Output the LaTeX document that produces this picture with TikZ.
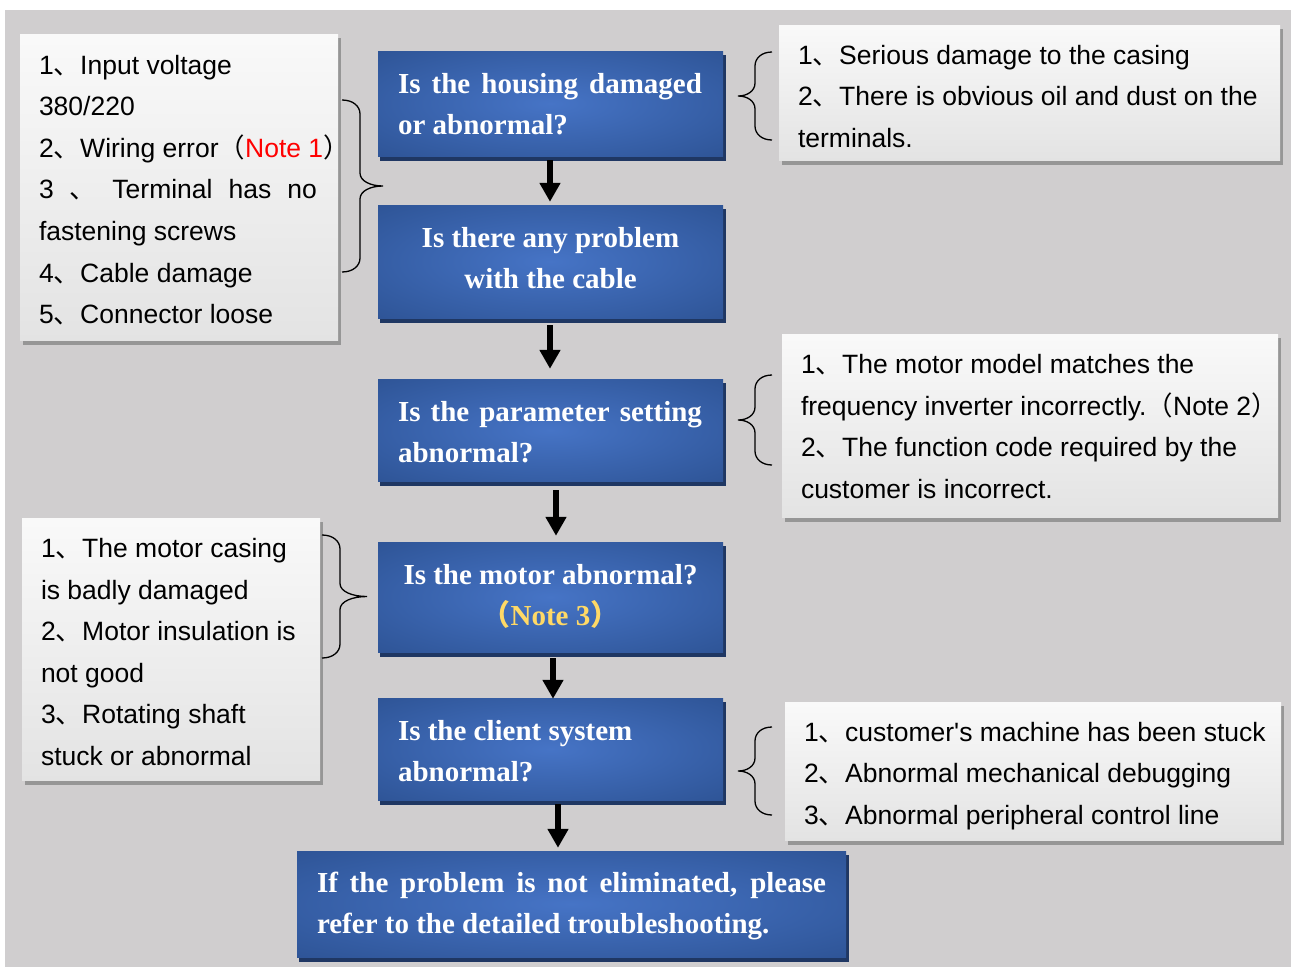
\documentclass[tikz,border=0pt]{standalone}
\usepackage{fontspec}
\setmainfont{Liberation Serif}
\newfontfamily\arialf{Liberation Sans}[Ligatures=TeXOff]
\newfontfamily\cjkf{Noto Sans CJK SC}
\usetikzlibrary{arrows.meta,calc}
\definecolor{bgc}{RGB}{208,206,207}
\definecolor{bcen}{RGB}{70,116,198}
\definecolor{bedge}{RGB}{46,84,150}
\definecolor{bsh}{RGB}{31,55,99}
\definecolor{wbot}{RGB}{216,216,216}
\definecolor{wsh}{RGB}{150,150,150}
\definecolor{noteyel}{RGB}{255,217,102}
\definecolor{notered}{RGB}{255,0,0}
\pgfdeclareradialshading{glow}{\pgfpoint{0bp}{0bp}}{color(0bp)=(bcen); color(36bp)=(bedge); color(50bp)=(bedge)}
\pgfdeclareverticalshading{wgrad}{100bp}{color(0bp)=(wbot); color(88bp)=(white); color(100bp)=(white)}
\pgfdeclarelayer{back}\pgfdeclarelayer{shad}\pgfsetlayers{back,shad,main}
\newcommand\dunc{{\cjkf 、}}
\newcommand\zlp{{\cjkf （}}
\newcommand\zrp{{\cjkf ）}}
\newcommand\Brace[5]{\draw[brc] (#1,#2) .. controls ({#1+0.6*(#4-#1)},#2) and (#4,{#2+6}) .. (#4,{#2+14}) -- (#4,{(#2+#3)/2-13}) .. controls (#4,{(#2+#3)/2-5}) and ({#5+0.55*(#4-#5)},{(#2+#3)/2}) .. (#5,{(#2+#3)/2}) .. controls ({#5+0.55*(#4-#5)},{(#2+#3)/2}) and (#4,{(#2+#3)/2+5}) .. (#4,{(#2+#3)/2+13}) -- (#4,{#3-14}) .. controls (#4,{#3-6}) and ({#1+0.6*(#4-#1)},#3) .. (#1,#3);}
\newcommand\BShadow[1]{\fill[bsh] ($(#1.south west)+(2.5,4.5)$) rectangle ($(#1.north east)+(2.5,4.5)$);}
\newcommand\WShadow[1]{\fill[wsh] ($(#1.south west)+(3,4.5)$) rectangle ($(#1.north east)+(3,4.5)$);}
\tikzset{
  bluebox/.style={shade, shading=glow, draw=none, inner sep=0pt},
  whitebox/.style={shade, shading=wgrad, draw=none, inner sep=0pt},
  btext/.style={font=\bfseries\fontsize{29}{41}\selectfont, text=white, inner sep=0pt},
  wtext/.style={font=\arialf\fontsize{26.5}{41.6}\selectfont, text=black, inner sep=0pt, align=left},
  brc/.style={draw=black, line width=1.3pt},
  flowarrow/.style={draw=black, line width=6pt, -{Triangle[width=20pt,length=19pt]}}
}
\begin{document}
\begin{tikzpicture}[x=1pt,y=-1pt]
\useasboundingbox (0,0) rectangle (1291,967);
\begin{pgfonlayer}{back}
\fill[white] (0,0) rectangle (1291,967);
\fill[bgc] (5,10) rectangle (1291,967);
\end{pgfonlayer}

% white boxes
\node[whitebox, minimum width=318pt, minimum height=306pt] (LB1) at (179,187) {};
\node[whitebox, minimum width=501pt, minimum height=135pt] (RB1) at (1029.5,92.5) {};
\node[whitebox, minimum width=496pt, minimum height=183pt] (RB2) at (1030,425.5) {};
\node[whitebox, minimum width=298pt, minimum height=262pt] (LB2) at (171,649) {};
\node[whitebox, minimum width=496pt, minimum height=138pt] (RB3) at (1033,771) {};

% blue boxes
\node[bluebox, minimum width=345pt, minimum height=105pt] (B1) at (550.5,103.5) {};
\node[bluebox, minimum width=345pt, minimum height=113pt] (B2) at (550.5,261.5) {};
\node[bluebox, minimum width=345pt, minimum height=102pt] (B3) at (550.5,430) {};
\node[bluebox, minimum width=345pt, minimum height=110pt] (B4) at (550.5,597) {};
\node[bluebox, minimum width=345pt, minimum height=102pt] (B5) at (550.5,749) {};
\node[bluebox, minimum width=549pt, minimum height=106pt] (B6) at (571.5,904) {};

\begin{pgfonlayer}{shad}
\WShadow{LB1}\WShadow{RB1}\WShadow{RB2}\WShadow{LB2}\WShadow{RB3}
\BShadow{B1}\BShadow{B2}\BShadow{B3}\BShadow{B4}\BShadow{B5}\BShadow{B6}
\end{pgfonlayer}

% white box texts
\node[wtext, anchor=west] (LB1t) at ($(LB1.west)+(19,3)$) {1\dunc Input voltage\\
380/220\\
2\dunc Wiring error\zlp{\color{notered}Note 1}\zrp\\
\makebox[278pt][s]{3 \dunc{} Terminal has no}\\
fastening screws\\
4\dunc Cable damage\\
5\dunc Connector loose};
\node[wtext, anchor=west] (RB1t) at ($(RB1.west)+(19,4)$) {1\dunc Serious damage to the casing\\
2\dunc There is obvious oil and dust on the\\
terminals.};
\node[wtext, anchor=west] (RB2t) at ($(RB2.west)+(19,1)$) {1\dunc The motor model matches the\\
frequency inverter incorrectly.\zlp Note 2\zrp\\
2\dunc The function code required by the\\
customer is incorrect.};
\node[wtext, anchor=west] (LB2t) at ($(LB2.west)+(19,3)$) {1\dunc The motor casing\\
is badly damaged\\
2\dunc Motor insulation is\\
not good\\
3\dunc Rotating shaft\\
stuck or abnormal};
\node[wtext, anchor=west] (RB3t) at ($(RB3.west)+(19,5)$) {1\dunc customer's machine has been stuck\\
2\dunc Abnormal mechanical debugging\\
3\dunc Abnormal peripheral control line};

% blue box texts
\node[btext, anchor=west, align=left] (B1t) at ($(B1.west)+(20,1)$) {\makebox[304pt][s]{Is the housing damaged}\\or abnormal?};
\node[btext, align=center] (B2t) at ($(B2.center)+(0,-3)$) {Is there any problem\\with the cable};
\node[btext, anchor=west, align=left] (B3t) at ($(B3.west)+(20,2.5)$) {\makebox[304pt][s]{Is the parameter setting}\\abnormal?};
\node[btext, align=center] (B4t) at ($(B4.center)+(0,-0.5)$) {Is the motor abnormal?\\{\color{noteyel}\zlp Note 3\zrp}};
\node[btext, anchor=west, align=left] (B5t) at ($(B5.west)+(20,2.5)$) {Is the client system\\abnormal?};
\node[btext, anchor=west, align=left] (B6t) at ($(B6.west)+(20,1.5)$) {\makebox[509pt][s]{If the problem is not eliminated, please}\\refer to the detailed troubleshooting.};

% braces
\Brace{342}{100}{272}{360}{383}
\Brace{772}{52}{140}{755}{738}
\Brace{772}{375}{465}{755}{738}
\Brace{322}{535}{658}{340}{367}
\Brace{772}{727}{815}{755}{738}

% arrows
\draw[flowarrow] ($(B1.south)+(-0.5,4)$) -- ($(B2.north)+(-0.5,-3)$);
\draw[flowarrow] ($(B2.south)+(-0.5,7)$) -- ($(B3.north)+(-0.5,-10)$);
\draw[flowarrow] ($(B3.south)+(5.5,9)$) -- ($(B4.north)+(5.5,-6)$);
\draw[flowarrow] ($(B4.south)+(2.5,6)$) -- ($(B5.north)+(2.5,1)$);
\draw[flowarrow] ($(B5.south)+(7.5,4)$) -- ($(B6.north)+(-13.5,-3)$);
\end{tikzpicture}
\end{document}
